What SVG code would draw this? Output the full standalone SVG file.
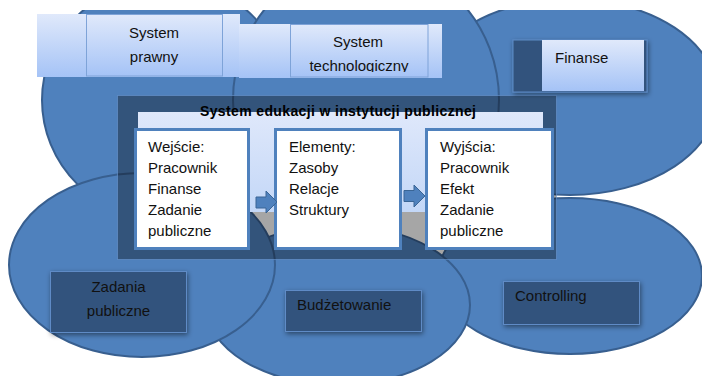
<svg xmlns="http://www.w3.org/2000/svg" width="702" height="376" viewBox="0 0 702 376">
<defs>
<style>
.ell{fill:#4f81bd;stroke:#385f8f;stroke-width:2}
.t{font-family:"Liberation Sans",Arial,sans-serif;font-size:15px;fill:#111}
.tb{font-family:"Liberation Sans",Arial,sans-serif;font-size:14px;font-weight:bold;fill:#000}
.lab{fill:#31527d;stroke:#5f8bc6;stroke-width:1}
.box{fill:#fff;stroke:#4f81bd;stroke-width:3}
.sys{fill:url(#lg)}
.sysIn{fill:url(#lg);stroke:#7ea3d8;stroke-width:1}
.arr{fill:#4f81bd;stroke:#3a6595;stroke-width:1}
</style>
<linearGradient id="lg" x1="0" y1="0" x2="0" y2="1">
<stop offset="0" stop-color="#e0e9fb"/>
<stop offset="1" stop-color="#a5c3f6"/>
</linearGradient>
<linearGradient id="pg" x1="0" y1="0" x2="0" y2="1">
<stop offset="0" stop-color="#dfe8fb"/>
<stop offset="1" stop-color="#c3d7f7"/>
</linearGradient>
<clipPath id="top"><rect x="0" y="10" width="702" height="366"/></clipPath>
<clipPath id="clipTech"><rect x="290" y="24" width="138" height="48"/></clipPath>
<filter id="sh" x="-10%" y="-15%" width="125%" height="150%">
<feGaussianBlur in="SourceAlpha" stdDeviation="2.5"/>
<feOffset dx="1" dy="2" result="o"/>
<feFlood flood-color="#000" flood-opacity="0.45"/>
<feComposite in2="o" operator="in"/>
<feMerge><feMergeNode/><feMergeNode in="SourceGraphic"/></feMerge>
</filter>
</defs>

<g id="ellipses" clip-path="url(#top)">
<ellipse id="ell-finanse" class="ell" cx="570" cy="97" rx="148" ry="98"/>
<ellipse id="ell-prawny" class="ell" cx="165" cy="100" rx="123" ry="120"/>
<ellipse id="ell-tech" class="ell" cx="366" cy="100" rx="133" ry="140"/>
<rect id="backdrop" x="240" y="200" width="317" height="59" fill="#fff"/>
<ellipse id="ell-controlling" class="ell" cx="570" cy="276" rx="132" ry="78"/>
<ellipse id="ell-budzet" class="ell" cx="338" cy="305" rx="132" ry="80"/>
<ellipse id="ell-zadania" class="ell" cx="142" cy="265" rx="133" ry="92"/>
</g>

<g id="system-frame">
<rect x="117.5" y="95.5" width="439" height="164" fill="#000" fill-opacity="0.35" stroke="#6a97d2" stroke-opacity="0.6" stroke-width="1"/>
<rect x="138" y="112" width="405" height="100" fill="url(#pg)"/>
<text class="tb" x="338" y="116" text-anchor="middle" textLength="276" lengthAdjust="spacing">System edukacji w instytucji publicznej</text>
</g>

<g id="node-prawny">
<rect class="sys" x="37" y="14" width="203" height="63"/>
<rect class="sysIn" x="86.5" y="14.5" width="136" height="61.5"/>
<text class="t" x="154" y="37.5" text-anchor="middle">System</text>
<text class="t" x="154" y="62" text-anchor="middle">prawny</text>
</g>

<g id="node-tech">
<rect class="sys" x="239" y="24" width="203" height="54"/>
<rect class="sysIn" x="290.5" y="24.5" width="137.5" height="52.5"/>
<text class="t" x="358" y="46.5" text-anchor="middle">System</text>
<text class="t" x="359" y="70.5" text-anchor="middle" clip-path="url(#clipTech)">technologiczny</text>
</g>

<g id="node-finanse">
<rect class="lab" x="513" y="40" width="134" height="52" filter="url(#sh)"/>
<rect class="sys" x="542" y="40" width="102" height="51"/>
<text class="t" x="555" y="63">Finanse</text>
</g>

<g id="node-wejscie">
<rect class="box" x="135.5" y="129.5" width="113" height="119"/>
<text class="t" x="148" y="152">Wejście:</text>
<text class="t" x="148" y="173">Pracownik</text>
<text class="t" x="148" y="194">Finanse</text>
<text class="t" x="148" y="215">Zadanie</text>
<text class="t" x="148" y="236">publiczne</text>
</g>

<g id="node-elementy">
<rect class="box" x="275.5" y="129.5" width="125" height="119"/>
<text class="t" x="289" y="152">Elementy:</text>
<text class="t" x="289" y="173">Zasoby</text>
<text class="t" x="289" y="194">Relacje</text>
<text class="t" x="289" y="215">Struktury</text>
</g>

<g id="node-wyjscia">
<rect class="box" x="426.5" y="129.5" width="126" height="119"/>
<text class="t" x="440" y="152">Wyjścia:</text>
<text class="t" x="440" y="173">Pracownik</text>
<text class="t" x="440" y="194">Efekt</text>
<text class="t" x="440" y="215">Zadanie</text>
<text class="t" x="440" y="236">publiczne</text>
</g>

<g id="connectors">
<path class="arr" d="M256,197 H266 V191 L277,202 L266,213 V208 H256 Z"/>
<path class="arr" d="M404,190.5 H414 V185 L425,196 L414,207 V201.5 H404 Z"/>
</g>

<g id="node-zadania">
<rect class="lab" x="50.5" y="271.5" width="136" height="61" filter="url(#sh)"/>
<text class="t" x="118.5" y="292" text-anchor="middle">Zadania</text>
<text class="t" x="118.5" y="316" text-anchor="middle">publiczne</text>
</g>

<g id="node-budzet">
<rect class="lab" x="285.5" y="290.5" width="136" height="41" filter="url(#sh)"/>
<text class="t" x="297" y="310">Budżetowanie</text>
</g>

<g id="node-controlling">
<rect class="lab" x="503.5" y="281.5" width="136" height="43" filter="url(#sh)"/>
<text class="t" x="515" y="301">Controlling</text>
</g>
</svg>
